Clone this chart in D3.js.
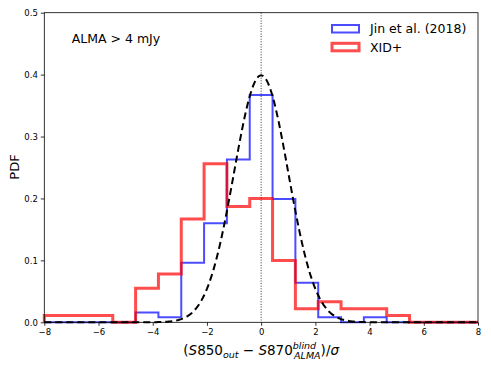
<!DOCTYPE html>
<meta charset="utf-8">
<script src="https://d3js.org/d3.v7.min.js"></script>
<style>
  body { margin: 0; background: #fff; }
  text { font-family: "DejaVu Sans", sans-serif; }
</style>
<div id="my_dataviz"></div>
<script>

// 19 equal bins from -8 to 8
var binEdges = d3.range(20).map(function(i) { return -8 + i * 16 / 19; });

var jinPdf = [0, 0, 0, 0, 0.016, 0.008, 0.096, 0.16, 0.263, 0.367,
              0.199, 0.064, 0.008, 0, 0.008, 0, 0, 0, 0];
var xidPdf = [0.011, 0.011, 0.011, 0, 0.055, 0.078, 0.167, 0.256, 0.187, 0.2,
              0.1, 0.022, 0.033, 0.022, 0.022, 0.011, 0, 0, 0];

var xTicks = [-8, -6, -4, -2, 0, 2, 4, 6, 8];
var yTicks = [0.0, 0.1, 0.2, 0.3, 0.4, 0.5];
var legendLabels = ["Jin et al. (2018)", "XID+"];

var margin = {top: 12.7, right: 13, bottom: 45.7, left: 44.3},
    width = 491 - margin.left - margin.right,
    height = 368 - margin.top - margin.bottom;

var svg = d3.select("#my_dataviz")
  .append("svg")
    .attr("width", 491)
    .attr("height", 368)
  .append("g")
    .attr("transform", "translate(" + margin.left + "," + margin.top + ")");

var x = d3.scaleLinear().domain([-8, 8]).range([0, width]);
var y = d3.scaleLinear().domain([0, 0.5]).range([height, 0]);

// histogram outline as a step path
function stepData(vals) {
  var pts = [[binEdges[0], 0]];
  vals.forEach(function(v, i) { pts.push([binEdges[i], v]); });
  pts.push([binEdges[binEdges.length - 1], vals[vals.length - 1]]);
  pts.push([binEdges[binEdges.length - 1], 0]);
  return pts;
}
var step = d3.line()
  .x(function(d) { return x(d[0]); })
  .y(function(d) { return y(d[1]); })
  .curve(d3.curveStepAfter);

svg.append("path")
  .attr("fill", "none")
  .attr("stroke", "blue")
  .attr("stroke-opacity", 0.7)
  .attr("stroke-width", 2)
  .attr("d", step(stepData(jinPdf)));

svg.append("path")
  .attr("fill", "none")
  .attr("stroke", "red")
  .attr("stroke-opacity", 0.7)
  .attr("stroke-width", 3)
  .attr("d", step(stepData(xidPdf)));

// standard normal
var gx = d3.range(-8, 8.001, 0.05);
svg.append("path")
  .attr("fill", "none")
  .attr("stroke", "black")
  .attr("stroke-width", 2)
  .attr("stroke-dasharray", "7,4")
  .attr("d", d3.line()
    .x(function(d) { return x(d); })
    .y(function(d) { return y(Math.exp(-d * d / 2) / Math.sqrt(2 * Math.PI)); })(gx));

// dotted line at zero
svg.append("line")
  .attr("x1", x(0)).attr("x2", x(0))
  .attr("y1", 0).attr("y2", height)
  .attr("stroke", "black")
  .attr("stroke-width", 0.8)
  .attr("stroke-dasharray", "1,1.6");

// axes
var xa = svg.append("g")
  .attr("transform", "translate(0," + height + ")")
  .call(d3.axisBottom(x).tickValues(xTicks).tickSize(3.5).tickPadding(3)
    .tickFormat(function(d) { return d < 0 ? "\u2212" + Math.abs(d) : d; }));
var ya = svg.append("g")
  .call(d3.axisLeft(y).tickValues(yTicks).tickSize(3.5).tickPadding(3)
    .tickFormat(d3.format(".1f")));
[xa, ya].forEach(function(a) {
  a.select(".domain").remove();
  a.selectAll("text").style("font-size", "8.5px").attr("fill", "#000");
  a.selectAll("line").attr("stroke-width", 0.8);
});

svg.append("rect")
  .attr("width", width).attr("height", height)
  .attr("fill", "none").attr("stroke", "black").attr("stroke-width", 0.8);

// annotation
svg.append("text")
  .attr("x", 71.7 - margin.left).attr("y", 43.5 - margin.top)
  .style("font-size", "12.5px")
  .text("ALMA > 4 mJy");

// legend
var legColors = ["blue", "red"], legW = [2, 3];
legendLabels.forEach(function(lab, i) {
  var ly = 25 + i * 18.3 - margin.top;
  svg.append("rect")
    .attr("x", 332 - margin.left).attr("y", ly)
    .attr("width", 27).attr("height", 7.5)
    .attr("fill", "none")
    .attr("stroke", legColors[i]).attr("stroke-opacity", 0.7)
    .attr("stroke-width", legW[i]);
  svg.append("text")
    .attr("x", 370 - margin.left).attr("y", ly + 8.5)
    .style("font-size", "12.5px")
    .text(lab);
});

// axis labels
var xl = svg.append("text")
  .attr("x", x(0)).attr("y", 355 - margin.top)
  .attr("text-anchor", "middle")
  .style("font-size", "13.5px");
xl.append("tspan").text("(");
xl.append("tspan").attr("font-style", "italic").text("S");
xl.append("tspan").text("850");
xl.append("tspan").attr("font-style", "italic").attr("dy", 3).style("font-size", "9.5px").text("out");
xl.append("tspan").attr("dy", -3).text(" \u2212 ");
xl.append("tspan").attr("font-style", "italic").text("S");
xl.append("tspan").text("870");
xl.append("tspan").attr("font-style", "italic").attr("dy", -6).style("font-size", "9.5px").text("blind");
xl.append("tspan").attr("font-style", "italic").attr("dx", -22).attr("dy", 10).style("font-size", "9.5px").text("ALMA");
xl.append("tspan").attr("dy", -4).text(")/");
xl.append("tspan").attr("font-style", "italic").text("\u03c3");

svg.append("text")
  .attr("transform", "translate(" + (19 - margin.left) + "," + (167 - margin.top) + ") rotate(-90)")
  .attr("text-anchor", "middle")
  .style("font-size", "13px")
  .text("PDF");

</script>
